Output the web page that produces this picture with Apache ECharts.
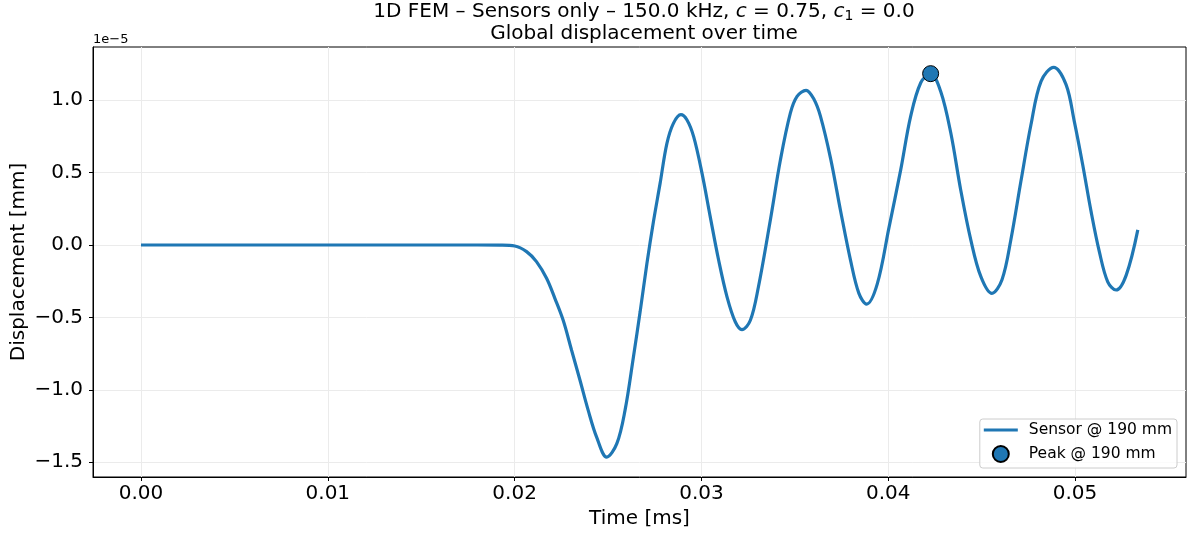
<!DOCTYPE html>
<html>
<head>
<meta charset="utf-8">
<script src="https://cdn.jsdelivr.net/npm/echarts@6/dist/echarts.min.js"></script>
<style>html,body{margin:0;padding:0;background:#fff}#c{width:1192px;height:535px}</style>
</head>
<body>
<div id="c"></div>
<script>
// Time axis [ms]
const timeMs = [0, 0.005, 0.010, 0.015, 0.018, 0.01921, 0.02001, 0.02064, 0.02117, 0.02171, 0.02216, 0.0226, 0.02305, 0.0235, 0.02394, 0.02439, 0.02493, 0.02547, 0.02591, 0.02636, 0.02672, 0.02708, 0.02743, 0.02779, 0.02815, 0.0285, 0.0289, 0.02922, 0.02958, 0.03003, 0.03047, 0.03092, 0.03137, 0.03181, 0.03217, 0.03262, 0.03305, 0.03369, 0.03423, 0.03476, 0.03512, 0.0356, 0.03603, 0.03637, 0.03691, 0.03745, 0.03798, 0.03843, 0.03884, 0.03941, 0.04004, 0.04067, 0.0412, 0.04174, 0.04227, 0.04281, 0.04335, 0.04388, 0.04442, 0.04496, 0.04555, 0.04609, 0.04657, 0.0471, 0.04764, 0.04818, 0.04886, 0.04952, 0.04996, 0.05041, 0.05086, 0.0513, 0.05175, 0.0522, 0.05274, 0.05336];
// Displacement [mm], in units of 1e-5
const dispE5 = [0, 0, 0, 0, 0, -0.001, -0.007, -0.046, -0.115, -0.23, -0.37, -0.52, -0.727, -0.934, -1.142, -1.327, -1.465, -1.372, -1.142, -0.773, -0.46, -0.13, 0.16, 0.427, 0.70, 0.84, 0.90, 0.865, 0.75, 0.496, 0.196, -0.104, -0.358, -0.53, -0.584, -0.52, -0.29, 0.173, 0.588, 0.91, 1.026, 1.068, 1.005, 0.89, 0.60, 0.235, -0.104, -0.334, -0.408, -0.27, 0.12, 0.52, 0.888, 1.12, 1.183, 1.06, 0.773, 0.38, 0.035, -0.219, -0.334, -0.24, 0.04, 0.438, 0.83, 1.13, 1.227, 1.107, 0.853, 0.554, 0.23, -0.046, -0.254, -0.311, -0.208, 0.104];
const peakTime = [0.04227];
const peakDisp = [1.183];
const xTicks = [0, 0.01, 0.02, 0.03, 0.04, 0.05];
const yTicks = [-1.5, -1.0, -0.5, 0.0, 0.5, 1.0];
const seriesNames = ['Sensor @ 190 mm', 'Peak @ 190 mm'];

const FONT = 'DejaVu Sans';
const BLUE = '#1f77b4';
const chart = echarts.init(document.getElementById('c'));
const lineData = timeMs.map((t, i) => [t, dispE5[i]]);
const peakData = peakTime.map((t, i) => [t, peakDisp[i]]);
const minus = s => s.replace('-', '\u2212');

chart.setOption({
  animation: false,
  backgroundColor: '#fff',
  textStyle: { fontFamily: FONT },
  title: [
    {
      text: '1D FEM \u2013 Sensors only \u2013 150.0 kHz, {i|c} = 0.75, {i|c}{sub|1} = 0.0',
      left: 639, top: -5, textAlign: 'center',
      textStyle: { fontFamily: FONT, fontSize: 20, fontWeight: 'normal', color: '#000',
        rich: { i: { fontFamily: FONT, fontSize: 20, fontStyle: 'italic', color: '#000' },
                sub: { fontFamily: FONT, fontSize: 14, color: '#000', verticalAlign: 'bottom', padding: [9, 0, 0, 0] } } }
    },
    {
      text: 'Global displacement over time',
      left: 639, top: 19, textAlign: 'center',
      textStyle: { fontFamily: FONT, fontSize: 20, fontWeight: 'normal', color: '#000' }
    }
  ],
  graphic: [
    { type: 'text', left: 93, top: 33, style: { text: '1e\u22125', fontFamily: FONT, fontSize: 13, fill: '#000' } }
  ],
  grid: { left: 93, right: 6, top: 47, bottom: 58, outerBoundsMode: 'none', containLabel: false,
          show: true, borderColor: '#000', borderWidth: 1, backgroundColor: 'transparent' },
  legend: {
    orient: 'vertical', right: 15, top: 419,
    backgroundColor: 'rgba(255,255,255,0.8)', borderColor: '#cccccc', borderWidth: 1, borderRadius: 3,
    padding: [3, 5, 5, 4], itemGap: 7, itemWidth: 34, itemHeight: 16,
    textStyle: { fontFamily: FONT, fontSize: 15.5, color: '#000', padding: [0, 0, 0, 6] },
    data: [
      { name: seriesNames[0], icon: 'path://M0,6.5 L34,6.5 L34,9.5 L0,9.5 Z', itemStyle: { color: BLUE } },
      { name: seriesNames[1], icon: 'circle' }
    ]
  },
  xAxis: {
    type: 'value', min: -0.00257, max: 0.05594,
    name: 'Time [ms]', nameLocation: 'middle', nameGap: 32, nameMoveOverlap: false,
    nameTextStyle: { fontFamily: FONT, fontSize: 20, color: '#000' },
    axisLine: { show: true, onZero: false, lineStyle: { color: '#000', width: 1 } },
    axisTick: { show: true, length: 4, customValues: xTicks, lineStyle: { color: '#000' } },
    axisLabel: { customValues: xTicks, margin: 7, fontFamily: FONT, fontSize: 20, color: '#000',
      formatter: v => v.toFixed(2) },
    splitLine: { show: true, lineStyle: { color: '#ebebeb', width: 1 } }
  },
  yAxis: {
    type: 'value', min: -1.602, max: 1.367,
    name: 'Displacement [mm]', nameLocation: 'middle', nameGap: 64, nameRotate: 90, nameMoveOverlap: false,
    nameTextStyle: { fontFamily: FONT, fontSize: 20, color: '#000' },
    axisLine: { show: true, onZero: false, lineStyle: { color: '#000', width: 1 } },
    axisTick: { show: true, length: 4, customValues: yTicks, lineStyle: { color: '#000' } },
    axisLabel: { customValues: yTicks, margin: 10, fontFamily: FONT, fontSize: 20, color: '#000',
      formatter: v => minus(v.toFixed(1)) },
    splitLine: { show: true, lineStyle: { color: '#ebebeb', width: 1 } }
  },
  series: [
    {
      name: seriesNames[0], type: 'line', data: lineData, smooth: 0.35, showSymbol: false, symbol: 'none',
      lineStyle: { color: BLUE, width: 3.2 }, itemStyle: { color: BLUE }, z: 2
    },
    {
      name: seriesNames[1], type: 'scatter', data: peakData, symbolSize: 16,
      itemStyle: { color: BLUE, borderColor: '#000', borderWidth: 1, opacity: 1 }, z: 3
    }
  ]
});
</script>
</body>
</html>
